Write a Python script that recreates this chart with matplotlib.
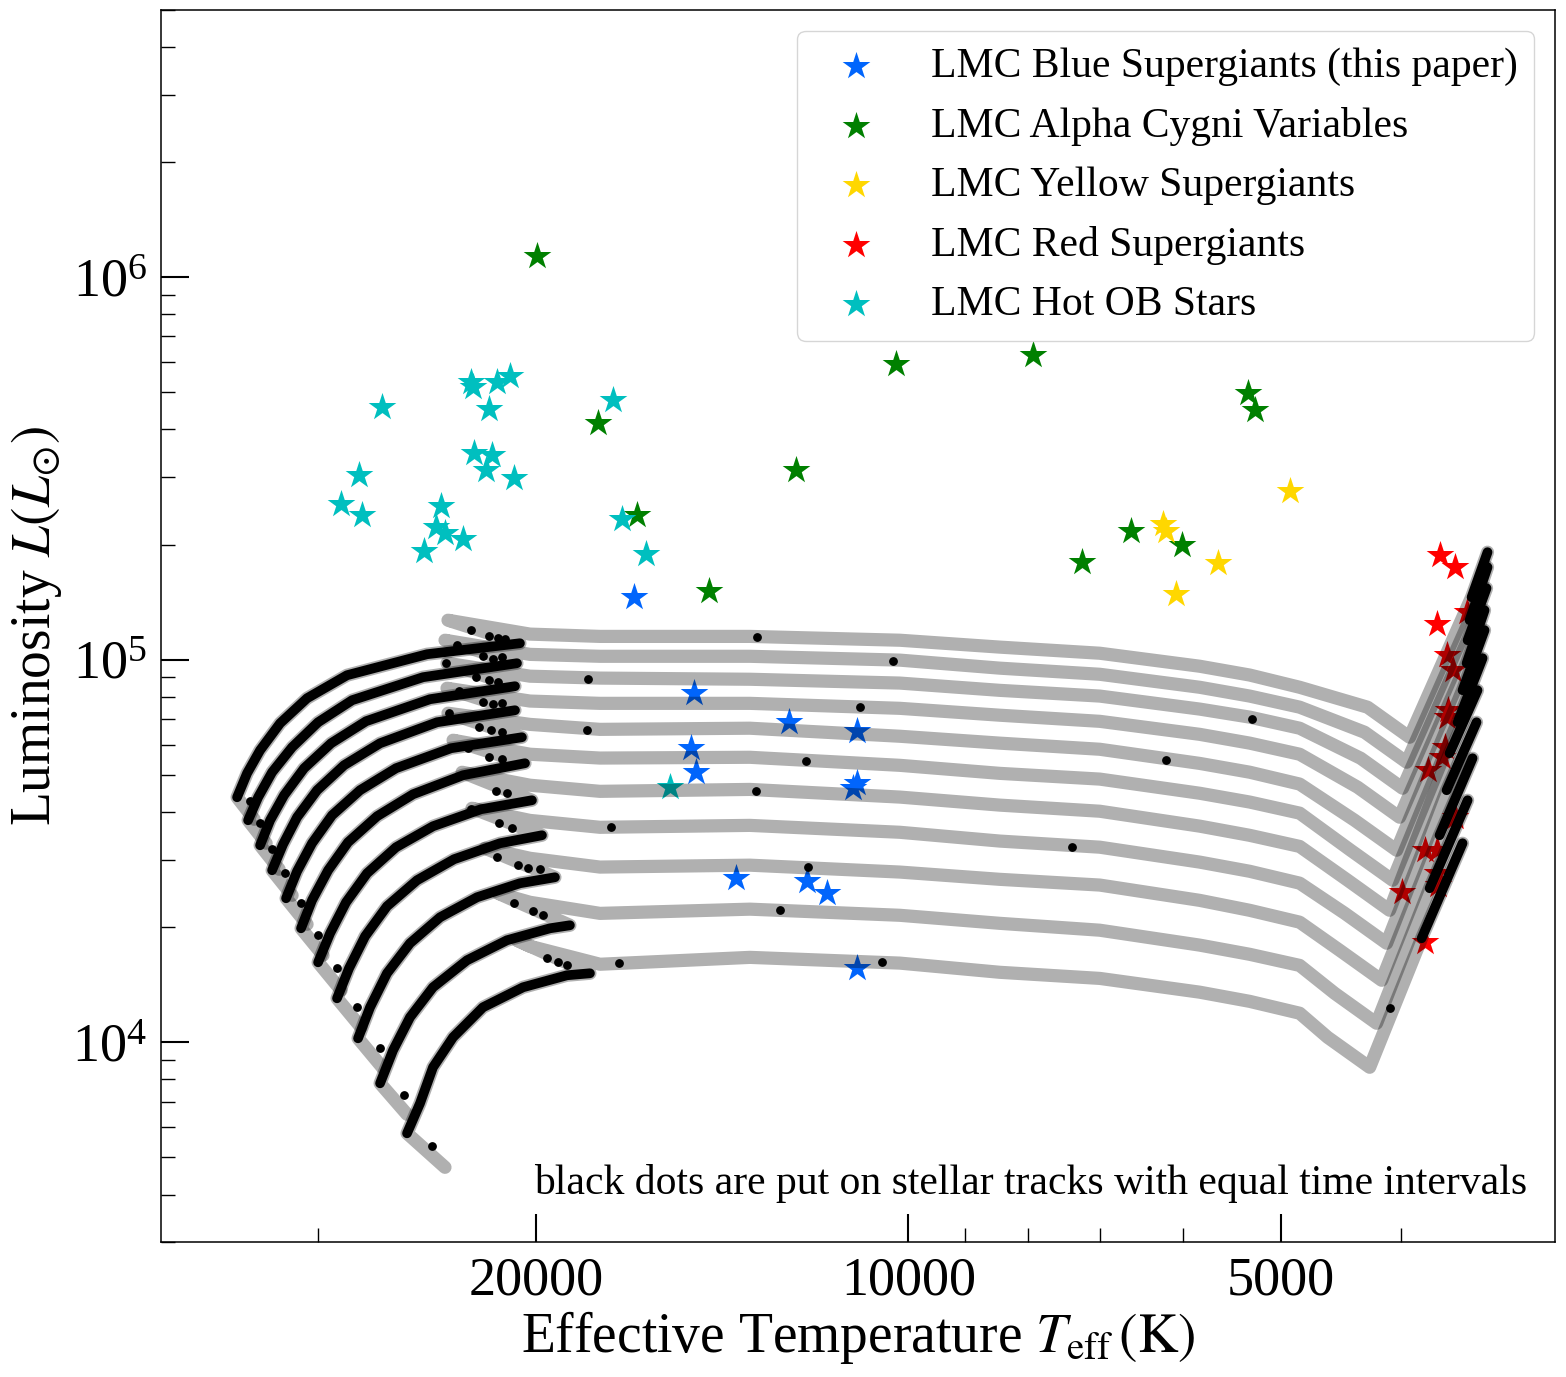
import numpy as np
import matplotlib
matplotlib.use("Agg")
import matplotlib.pyplot as plt
from matplotlib.ticker import FixedLocator, NullFormatter, FixedFormatter

plt.rcParams['font.family'] = ['Liberation Serif', 'DejaVu Serif']
plt.rcParams['mathtext.fontset'] = 'stix'

# ---------------- stellar tracks (log Teff, log L) ----------------
# pre-main-sequence start of each track
pre_logT = [4.5289, 4.5192, 4.5087, 4.4982, 4.4861, 4.4732, 4.4586, 4.4425, 4.4247, 4.4053, 4.3746]
pre_logL = [4.5830, 4.5203, 4.4523, 4.3843, 4.3085, 4.2275, 4.1360, 4.0392, 3.9321, 3.8118, 3.6732]

# main sequence, ZAMS -> TAMS (drawn black)
ms_logT = [
    [4.5427, 4.5346, 4.5241, 4.5079, 4.4861, 4.4538, 4.3891, 4.3140],
    [4.5338, 4.5257, 4.5144, 4.4982, 4.4772, 4.4497, 4.3924, 4.3164],
    [4.5241, 4.5160, 4.5047, 4.4885, 4.4667, 4.4384, 4.3867, 4.3180],
    [4.5144, 4.5055, 4.4942, 4.4780, 4.4562, 4.4271, 4.3810, 4.3180],
    [4.5031, 4.4942, 4.4821, 4.4659, 4.4433, 4.4142, 4.3697, 4.3124],
    [4.4910, 4.4821, 4.4691, 4.4530, 4.4295, 4.4004, 4.3600, 4.3099],
    [4.4772, 4.4675, 4.4546, 4.4376, 4.4142, 4.3843, 4.3455, 4.3043],
    [4.4619, 4.4522, 4.4392, 4.4215, 4.3972, 4.3673, 4.3301, 4.2962],
    [4.4449, 4.4352, 4.4215, 4.4029, 4.3786, 4.3487, 4.3140, 4.2857],
    [4.4271, 4.4166, 4.4029, 4.3843, 4.3568, 4.3245, 4.2897, 4.2736],
    [4.4053, 4.3948, 4.3843, 4.3681, 4.3439, 4.3115, 4.2760, 4.2574],
]
ms_logL = [
    [4.6405, 4.7033, 4.7634, 4.8340, 4.8994, 4.9595, 5.0144, 5.0431],
    [4.5804, 4.6405, 4.7059, 4.7713, 4.8366, 4.8942, 4.9543, 4.9909],
    [4.5150, 4.5804, 4.6458, 4.7164, 4.7817, 4.8393, 4.8968, 4.9308],
    [4.4497, 4.5177, 4.5883, 4.6589, 4.7242, 4.7817, 4.8366, 4.8680],
    [4.3765, 4.4471, 4.5203, 4.5935, 4.6589, 4.7164, 4.7687, 4.7974],
    [4.2980, 4.3713, 4.4497, 4.5229, 4.5909, 4.6484, 4.6981, 4.7295],
    [4.2091, 4.2850, 4.3660, 4.4419, 4.5098, 4.5647, 4.6092, 4.6327],
    [4.1150, 4.1935, 4.2772, 4.3556, 4.4236, 4.4785, 4.5203, 4.5412],
    [4.0104, 4.0915, 4.1804, 4.2589, 4.3268, 4.3791, 4.4157, 4.4314],
    [3.8928, 3.9791, 4.0654, 4.1438, 4.2144, 4.2667, 4.2980, 4.3059],
    [3.7621, 3.8405, 3.9347, 4.0131, 4.0915, 4.1438, 4.1752, 4.1804],
]

# blueward hook after the main sequence
hook_logT = [4.3722, 4.3746, 4.3730, 4.3730, 4.3722, 4.3681, 4.3608, 4.3528, 4.3422, 4.3317, 4.3164]
hook_logL = [5.1033, 5.0510, 4.9909, 4.9255, 4.8602, 4.7896, 4.7059, 4.6118, 4.5072, 4.3896, 4.2667]

# Hertzsprung-gap crossing, sampled at common temperatures
cross_logT = [4.3059, 4.2493, 4.1281, 4.0069, 3.9261, 3.8452, 3.7644, 3.7240, 3.6836]
cross_logL = [
    [5.067, 5.061, 5.061, 5.051, 5.033, 5.017, 4.983, 4.960, 4.928],
    [5.014, 5.009, 5.009, 4.999, 4.978, 4.962, 4.928, 4.905, 4.876],
    [4.957, 4.952, 4.949, 4.939, 4.920, 4.905, 4.871, 4.850, 4.821],
    [4.892, 4.886, 4.886, 4.873, 4.855, 4.839, 4.805, 4.782, 4.753],
    [4.831, 4.818, 4.821, 4.800, 4.782, 4.766, 4.729, 4.706, 4.675],
    [4.753, 4.743, 4.745, 4.724, 4.703, 4.688, 4.651, 4.628, 4.599],
    [4.672, 4.656, 4.661, 4.641, 4.620, 4.604, 4.565, 4.541, 4.512],
    [4.580, 4.562, 4.567, 4.549, 4.526, 4.510, 4.471, 4.447, 4.416],
    [4.481, 4.458, 4.463, 4.445, 4.426, 4.411, 4.371, 4.345, 4.314],
    [4.366, 4.337, 4.348, 4.332, 4.311, 4.293, 4.254, 4.230, 4.201],
    [4.251, 4.204, 4.222, 4.207, 4.183, 4.167, 4.131, 4.107, 4.076],
]

# drop before the red giant branch, the dip, and the Hayashi line up to the tip
predip_logT = [3.6287, 3.6311, 3.6343, 3.6367, 3.6392, 3.6424, 3.6448, 3.6472, 3.6513, 3.6553, 3.6610]
predip_logL = [4.8759, 4.8105, 4.7425, 4.6667, 4.5804, 4.5020, 4.4236, 4.3373, 4.2406, 4.1281, 4.0131]
dip_logT = [3.5947, 3.5971, 3.6004, 3.6028, 3.6052, 3.6084, 3.6109, 3.6133, 3.6173, 3.6214, 3.6270]
dip_logL = [4.7974, 4.7321, 4.6641, 4.5883, 4.5020, 4.4236, 4.3451, 4.2589, 4.1621, 4.0497, 3.9347]
rsg_logT = [3.5446, 3.5462, 3.5478, 3.5486, 3.5519, 3.5559, 3.5624, 3.5648, 3.5705, 3.5785, 3.5850]
rsg_logL = [5.1634, 5.1033, 5.0510, 4.9909, 4.9203, 4.8366, 4.7556, 4.6589, 4.5412, 4.4027, 4.2719]
tip_logT = [3.5317, 3.5317, 3.5325, 3.5341, 3.5341, 3.5357, 3.5398, 3.5406, 3.5438, 3.5478, 3.5519]
tip_logL = [5.2811, 5.2419, 5.1870, 5.1294, 5.0772, 5.0040, 4.9203, 4.8366, 4.7425, 4.6327, 4.5203]

# equal-time dots along the tracks
dot_logT = [4.5322, 4.5241, 4.5144, 4.5039, 4.4910, 4.4772, 4.4619, 4.4457, 4.4271, 4.4077, 4.3851,
            4.3536, 4.3390, 4.3317, 4.3261, 4.3649, 4.3439, 4.3358, 4.3285, 4.3738, 4.3495,
            4.3390, 4.3317, 4.3633, 4.3439, 4.3358, 4.3285, 4.3713, 4.3471, 4.3374, 4.3285,
            4.3560, 4.3390, 4.3285, 4.3334, 4.3245, 4.3536, 4.3309, 4.3204, 4.3326, 4.3156,
            4.3075, 4.2978, 4.3188, 4.3035, 4.2954, 4.2921, 4.2833, 4.2760,
            4.1224, 4.0125, 4.2590, 4.2598, 4.0392, 4.0828, 4.1232, 4.2404, 3.7224, 3.7919,
            3.8679, 4.0812, 4.1038, 4.2340, 4.0214, 3.6109]
dot_logL = [4.6301, 4.5726, 4.5046, 4.4419, 4.3634, 4.2798, 4.1935, 4.0915, 3.9843, 3.8614, 3.7281,
            5.0772, 5.0615, 5.0563, 5.0536, 5.0380, 5.0092, 5.0014, 5.0066, 4.9909, 4.9543,
            4.9465, 4.9412, 4.9177, 4.8889, 4.8837, 4.8863, 4.8602, 4.8236, 4.8157, 4.8105,
            4.7687, 4.7451, 4.7399, 4.6562, 4.6510, 4.6092, 4.5726, 4.5595, 4.4837, 4.4628,
            4.4549, 4.4523, 4.3634, 4.3425, 4.3321, 4.2196, 4.2092, 4.2013,
            5.0589, 4.9961, 4.9491, 4.8157, 4.8759, 4.7347, 4.6562, 4.5621, 4.8445, 4.7373,
            4.5098, 4.4576, 4.3451, 4.2066, 4.2092, 4.0889]

# ---------------- observed stars (log Teff, log L) ----------------
bsg_logT = [4.2218, 4.1733, 4.0966, 4.0416, 4.1758, 4.1717, 4.0416, 4.0449, 4.1394, 4.0820, 4.0659, 4.0416]
bsg_logL = [5.1634, 4.9125, 4.8366, 4.8131, 4.7687, 4.7059, 4.6772, 4.6641, 4.4288, 4.4210, 4.3896, 4.1935]

acyg_logT = [4.3002, 4.2509, 4.2194, 4.1612, 4.0909, 4.0101, 3.8994, 3.7256, 3.7200, 3.8598, 3.8202, 3.7790]
acyg_logL = [6.0549, 5.6183, 5.3778, 5.1791, 5.4954, 5.7726, 5.7961, 5.6967, 5.6523, 5.2549, 5.3360, 5.2994]

ysg_logT = [3.7943, 3.7919, 3.7499, 3.7838, 3.6917]
ysg_logL = [5.3543, 5.3360, 5.2523, 5.1712, 5.4405]

rsg_star_logT = [3.5705, 3.5583, 3.5729, 3.5486, 3.5648, 3.5600, 3.5640, 3.5648, 3.5664,
                 3.5688, 3.5802, 3.5583, 3.5826, 3.5729, 3.5729, 3.5721, 3.6012, 3.5826]
rsg_star_logL = [5.2732, 5.2419, 5.0929, 5.1242, 5.0118, 4.9726, 4.8680, 4.8497, 4.7713,
                 4.7451, 4.7112, 4.5883, 4.5020, 4.5020, 4.4419, 4.4105, 4.3922, 4.2615]

ob_logT = [4.4255, 4.3536, 4.3519, 4.3326, 4.3220, 4.3390, 4.2388, 4.3511, 4.3366, 4.3414, 4.3188,
           4.4441, 4.4586, 4.4416, 4.3778, 4.3818, 4.3746, 4.3600, 4.3915, 4.2315, 4.2121, 4.1927]
ob_logL = [5.6601, 5.7255, 5.7124, 5.7255, 5.7412, 5.6549, 5.6784, 5.5399, 5.5347, 5.4954, 5.4745,
           5.4824, 5.4066, 5.3778, 5.4013, 5.3464, 5.3307, 5.3150, 5.2837, 5.3673, 5.2758, 4.6667]

groups = [
    ("LMC Blue Supergiants (this paper)", bsg_logT, bsg_logL, "#0165fc"),
    ("LMC Alpha Cygni Variables", acyg_logT, acyg_logL, "green"),
    ("LMC Yellow Supergiants", ysg_logT, ysg_logL, "gold"),
    ("LMC Red Supergiants", rsg_star_logT, rsg_star_logL, "red"),
    ("LMC Hot OB Stars", ob_logT, ob_logL, "c"),
]


def main():
    fig = plt.figure(figsize=(15.66, 13.77), dpi=100)
    ax = fig.add_axes([0.1028, 0.0978, 0.8902, 0.8951])

    # stars first, tracks are drawn over them
    for label, lt, ll, col in groups:
        ax.scatter(10 ** np.array(lt), 10 ** np.array(ll), marker="*", s=440,
                   color=col, linewidths=0, zorder=1, label=label)

    # grey tracks
    for k in range(len(ms_logT)):
        lt = [pre_logT[k]] + ms_logT[k] + [hook_logT[k]] + cross_logT + \
             [predip_logT[k], dip_logT[k], rsg_logT[k], tip_logT[k]]
        ll = [pre_logL[k]] + ms_logL[k] + [hook_logL[k]] + cross_logL[k] + \
             [predip_logL[k], dip_logL[k], rsg_logL[k], tip_logL[k]]
        ax.plot(10 ** np.array(lt), 10 ** np.array(ll), color="k", alpha=0.31, lw=9.5,
                solid_capstyle="round", solid_joinstyle="round", zorder=2)

    # black parts where the dots pile up (main sequence and red supergiant phase)
    for k in range(len(ms_logT)):
        ax.plot(10 ** np.array(ms_logT[k]), 10 ** np.array(ms_logL[k]), color="k", lw=7,
                solid_capstyle="round", solid_joinstyle="round", zorder=3)
        ax.plot(10 ** np.array([rsg_logT[k], tip_logT[k]]), 10 ** np.array([rsg_logL[k], tip_logL[k]]),
                color="k", lw=7, solid_capstyle="round", zorder=3)

    ax.plot(10 ** np.array(dot_logT), 10 ** np.array(dot_logL), "o", color="k", ms=5.3, zorder=4)

    ax.set_xscale("log")
    ax.set_yscale("log")
    ax.set_xlim(40200, 3000)
    ax.set_ylim(3000, 5e6)

    ax.xaxis.set_major_locator(FixedLocator([20000, 10000, 5000]))
    ax.xaxis.set_major_formatter(FixedFormatter(["20000", "10000", "5000"]))
    ax.xaxis.set_minor_locator(FixedLocator([30000, 9000, 8000, 7000, 6000, 4000]))
    ax.xaxis.set_minor_formatter(NullFormatter())
    ax.yaxis.set_minor_formatter(NullFormatter())

    ax.tick_params(which="both", direction="in", top=False, right=False, labelsize=39)
    ax.tick_params(which="major", length=20, width=1.5, pad=10)
    ax.tick_params(which="minor", length=10, width=1.0)
    for sp in ax.spines.values():
        sp.set_linewidth(1.1)

    ax.set_xlabel(r"Effective Temperature $T_{\rm eff}\,(\rm K)$", fontsize=40, labelpad=2)
    ax.set_ylabel(r"Luminosity $L(L_{\odot})$", fontsize=40, labelpad=6)

    ax.text(0.98, 0.048, "black dots are put on stellar tracks with equal time intervals",
            transform=ax.transAxes, ha="right", va="center", fontsize=30)

    ax.legend(loc="upper right", fontsize=30, scatterpoints=1)

    plt.savefig("out.png", dpi=100)
    plt.close(fig)


if __name__ == "__main__":
    main()
